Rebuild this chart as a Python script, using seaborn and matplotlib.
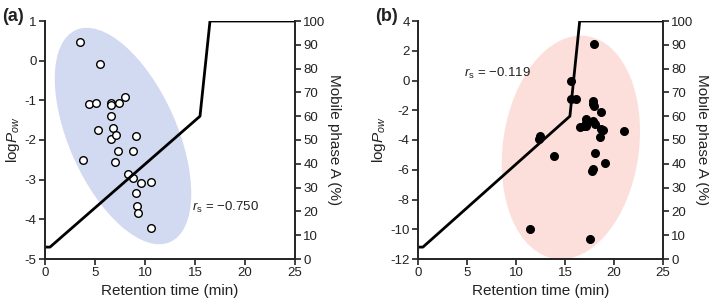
import matplotlib
matplotlib.use('Agg')
import matplotlib.pyplot as plt
import matplotlib.transforms as mtransforms
from matplotlib.patches import Ellipse
import numpy as np
import pandas as pd
import seaborn as sns

sns.set_style('ticks')
plt.rcParams.update({'font.family'       : ['Liberation Sans', 'DejaVu Sans'],
                     'font.size'         : 11,
                     'xtick.labelsize'   : 9.5,
                     'ytick.labelsize'   : 9.5,
                     'axes.labelsize'    : 11,
                     'axes.linewidth'    : 1.3,
                     'axes.unicode_minus': False,
                     'mathtext.fontset'  : 'custom',
                     'mathtext.rm'       : 'Liberation Sans',
                     'mathtext.it'       : 'Liberation Sans:italic',
                     'text.color'        : '#222222',
                     'axes.labelcolor'   : '#222222',
                     'xtick.color'       : '#222222',
                     'ytick.color'       : '#222222'})

# gradient program (same in both panels)
grad_time  = [0, 0.5, 15.5, 16.5, 25]
grad_A     = [5, 5, 60, 100, 100]

# panel (a): retention time vs logPow
rt_a   = [3.5, 5.47, 4.37, 5.13, 6.57, 6.63, 7.37, 8.03, 6.63, 6.8, 5.3, 6.63, 7.13,
          9.13, 7.3, 8.77, 3.83, 7.0, 8.3, 8.83, 9.63, 10.6, 9.07, 9.17, 9.27, 10.6]
logp_a = [0.48, -0.09, -1.08, -1.06, -1.06, -1.13, -1.06, -0.92, -1.39, -1.71, -1.74,
          -1.98, -1.87, -1.91, -2.27, -2.27, -2.51, -2.56, -2.86, -2.95, -3.08, -3.06,
          -3.33, -3.66, -3.83, -4.22]

# panel (b)
rt_b   = [17.93, 15.65, 15.65, 16.09, 17.82, 17.89, 17.93, 18.64, 17.11, 17.86, 18.06,
          17.14, 16.5, 16.9, 17.18, 18.71, 18.91, 21.02, 18.57, 12.41, 12.31, 13.88,
          18.06, 19.12, 17.86, 17.79, 11.39, 17.52]
logp_b = [2.43, -0.06, -1.25, -1.25, -1.38, -1.61, -1.7, -2.1, -2.57, -2.7, -2.93,
          -2.88, -3.1, -3.06, -3.06, -3.24, -3.35, -3.38, -3.78, -3.71, -3.91, -5.1,
          -4.86, -5.53, -5.93, -6.09, -9.99, -10.64]

rs_a = -0.750
rs_b = -0.119

df_a    = pd.DataFrame({'rt': rt_a, 'logp': logp_a})
df_b    = pd.DataFrame({'rt': rt_b, 'logp': logp_b})
df_grad = pd.DataFrame({'t': grad_time, 'A': grad_A})

fig = plt.figure(figsize=(7.09, 3.02), dpi=100)
ax_a = fig.add_axes([45/709, 43/302, 250/709, 238/302])
ax_b = fig.add_axes([418/709, 43/302, 245/709, 238/302])


def draw_panel(ax, df, ylim, yticks, ell, ell_color, face, rs, rs_pos, tag):
    # ellipse sized in inches around a data-space centre
    cx, cy, w, h, ang = ell
    tr = fig.dpi_scale_trans + mtransforms.ScaledTranslation(cx, cy, ax.transData)
    ax.add_patch(Ellipse((0, 0), w, h, angle=ang, transform=tr,
                         facecolor=ell_color, edgecolor='none', zorder=0))
    sns.scatterplot(data=df, x='rt', y='logp', ax=ax, s=30, color=face,
                    edgecolor='black', linewidth=1.0, zorder=3, legend=False)
    ax.set_xlim(0, 25)
    ax.set_ylim(*ylim)
    ax.set_xticks(range(0, 26, 5))
    ax.set_yticks(yticks)
    ax.set_xlabel('Retention time (min)', labelpad=3)
    ax.set_ylabel(r'log$\mathit{P}_{\mathit{ow}}$', labelpad=2)
    ax.spines['top'].set_visible(False)
    ax.tick_params(direction='out', length=4, width=1.2, pad=2)
    ax.text(rs_pos[0], rs_pos[1], r'$\mathit{r}_{\mathrm{s}}$' + ' = \u2212%.3f' % abs(rs),
            fontsize=9.5, va='center', ha='left')

    ax2 = ax.twinx()
    sns.lineplot(data=df_grad, x='t', y='A', ax=ax2, color='black', lw=2.0)
    ax2.set_ylim(0, 100)
    ax2.set_xlim(0, 25)
    ax2.set_yticks(range(0, 101, 10))
    ax2.set_ylabel('Mobile phase A (%)', rotation=270, labelpad=11)
    ax2.spines['top'].set_visible(False)
    ax2.tick_params(direction='out', length=4, width=1.2, pad=2)
    fig.text(ax.get_position().x0 - 43/709, 0.975, tag, fontsize=13,
             fontweight='bold', va='top', ha='left')


draw_panel(ax_a, df_a, (-5, 1), range(-5, 2, 1), (7.8, -1.9, 1.08, 2.32, 24),
           '#d2daf1', 'white', rs_a, (14.7, -3.69), '(a)')
draw_panel(ax_b, df_b, (-12, 4), range(-12, 5, 2), (15.6, -4.5, 1.36, 2.25, -8),
           '#fcdfdb', 'black', rs_b, (4.7, 0.48), '(b)')

plt.savefig('out.png', dpi=100)
